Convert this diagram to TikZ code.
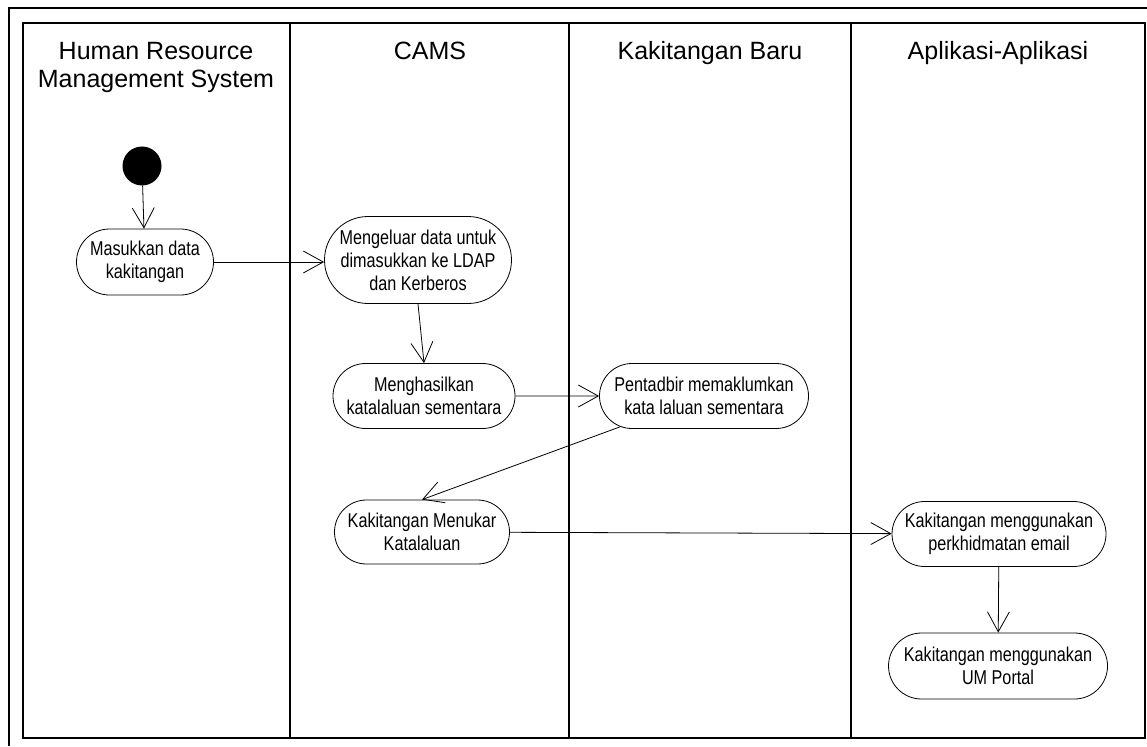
\documentclass[tikz,border=0pt]{standalone}
\usepackage{fontspec}
\setmainfont{Liberation Sans}
\newfontfamily\actfont[FakeStretch=0.81]{Liberation Sans}
\usetikzlibrary{arrows.meta,shapes.misc}

\tikzset{
	act/.style={rounded rectangle, draw, line width=0.8pt, inner sep=0pt, align=center, font=\actfont\fontsize{20}{23}\selectfont},
	flow/.style={-{Straight Barb[length=20pt,width=22pt]}, line width=0.8pt},
	lane/.style={line width=1.5pt},
	lanehead/.style={font=\fontsize{25}{28}\selectfont, align=center, anchor=base}
}

\begin{document}
\begin{tikzpicture}[x=1pt,y=-1pt]
			\useasboundingbox (0,0) rectangle (1147,746);
			\draw[line width=1.2pt](9,746) -- (9,8) -- (1147,8);
			\draw[lane](23,23) rectangle (1145,738);
			\draw[lane](290,23) -- (290,738);
			\draw[lane](569,23) -- (569,738);
			\draw[lane](851,23) -- (851,738);
			\node[lanehead] (hrms) at (156,88) {Human Resource\\Management System};
			\node[lanehead] (cams) at (430,60) {CAMS};
			\node[lanehead] (baru) at (710,60) {Kakitangan Baru};
			\node[lanehead] (apps) at (998,60) {Aplikasi-Aplikasi};
			\node[circle, fill=black, minimum size=39pt, inner sep=0pt] (init) at (142,166) {};
			\node[act, minimum width=137pt, minimum height=66pt] (masuk) at (145,262) {Masukkan data\\kakitangan};
			\node[act, minimum width=187pt, minimum height=87pt] (keluar) at (418,260) {Mengeluar data untuk\\dimasukkan ke LDAP\\dan Kerberos};
			\node[act, minimum width=182pt, minimum height=65pt] (hasil) at (424,396) {Menghasilkan\\katalaluan sementara};
			\node[act, minimum width=209pt, minimum height=65pt] (pentadbir) at (704,396) {Pentadbir memaklumkan\\kata laluan sementara};
			\node[act, minimum width=175pt, minimum height=64pt] (tukar) at (422,532) {Kakitangan Menukar\\Katalaluan};
			\node[act, minimum width=214pt, minimum height=65pt] (email) at (999,534) {Kakitangan menggunakan\\perkhidmatan email};
			\node[act, minimum width=219pt, minimum height=66pt] (portal) at (998,666) {Kakitangan menggunakan\\UM Portal};
			\draw[flow](init) -- (masuk);
			\draw[flow](masuk.east) -- (masuk.east -| keluar.west);
			\draw[flow](keluar.south) -- (hasil.north);
			\draw[flow](hasil) -- (pentadbir);
			\draw[flow](pentadbir) -- (tukar.north);
			\draw[flow](tukar) -- (email);
			\draw[flow](email) -- (portal);
		\end{tikzpicture}
\end{document}
